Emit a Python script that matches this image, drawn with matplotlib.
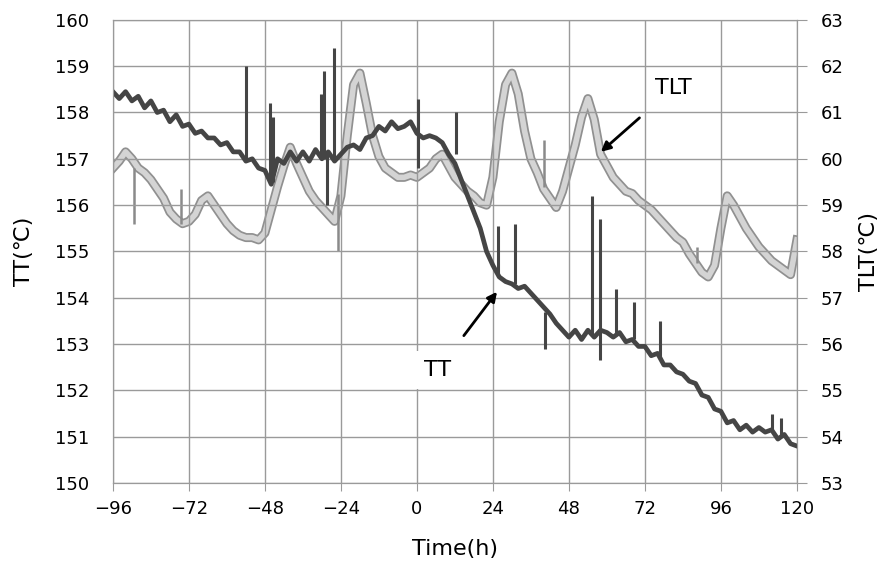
import matplotlib
matplotlib.use('Agg')
import matplotlib.pyplot as plt
import matplotlib.patheffects as pe

# time axis (h), sampled every 2 h
hours = list(range(-96, 121, 2))

# TT (left axis, degC)
tt = [158.45, 158.3, 158.45, 158.25, 158.35, 158.1, 158.25, 158.0, 158.05, 157.8,
      157.95, 157.7, 157.75, 157.55, 157.6, 157.45, 157.45, 157.3, 157.35, 157.15,
      157.15, 156.95, 157.0, 156.8, 156.75, 156.45, 157.0, 156.9, 157.15, 156.95,
      157.15, 156.95, 157.2, 157.0, 157.15, 156.95, 157.1, 157.25, 157.3, 157.2,
      157.45, 157.5, 157.7, 157.6, 157.8, 157.65, 157.7, 157.8, 157.55, 157.45,
      157.5, 157.45, 157.35, 157.1, 156.9, 156.55, 156.2, 155.85, 155.5, 155.0,
      154.7, 154.45, 154.35, 154.3, 154.2, 154.25, 154.1, 153.95, 153.8, 153.65,
      153.45, 153.3, 153.15, 153.3, 153.1, 153.3, 153.15, 153.3, 153.25, 153.15,
      153.25, 153.05, 153.1, 152.95, 152.95, 152.75, 152.8, 152.55, 152.55, 152.4,
      152.35, 152.2, 152.15, 151.9, 151.85, 151.6, 151.55, 151.3, 151.35, 151.15,
      151.25, 151.1, 151.2, 151.1, 151.15, 150.95, 151.05, 150.85, 150.8]

# TLT (right axis, degC)
tlt = [59.8, 59.95, 60.15, 60.0, 59.8, 59.7, 59.55, 59.35, 59.15, 58.85,
       58.7, 58.6, 58.65, 58.8, 59.1, 59.2, 59.0, 58.8, 58.6, 58.45,
       58.35, 58.3, 58.3, 58.25, 58.4, 58.9, 59.4, 59.85, 60.25, 59.9,
       59.6, 59.3, 59.1, 58.95, 58.8, 58.65, 59.2, 60.5, 61.6, 61.85,
       61.2, 60.5, 60.05, 59.8, 59.7, 59.6, 59.6, 59.65, 59.6, 59.7,
       59.8, 60.0, 60.1, 59.85, 59.6, 59.45, 59.3, 59.2, 59.05, 59.0,
       59.6, 60.8, 61.6, 61.85, 61.4, 60.6, 60.0, 59.7, 59.35, 59.15,
       58.95, 59.3, 59.8, 60.3, 60.9, 61.3, 60.85, 60.1, 59.85, 59.6,
       59.45, 59.3, 59.25, 59.1, 59.0, 58.9, 58.75, 58.6, 58.45, 58.3,
       58.2, 57.95, 57.75, 57.55, 57.45, 57.7, 58.5, 59.2, 59.0, 58.75,
       58.5, 58.3, 58.1, 57.95, 57.8, 57.7, 57.6, 57.5, 58.25]

# single-sample spikes: time, low, high
tt_spike_t = [-54, -46.5, -45.5, -30.3, -29.4, -26.2, -28.5, 0.3, 12.5, 25.6, 31,
              40.5, 55.3, 57.7, 62.9, 68.6, 76.9, 112, 115]
tt_spike_lo = [157.0, 156.5, 156.5, 157.0, 157.0, 157.0, 156.0, 156.8, 157.1, 154.5, 154.3,
               152.9, 153.2, 152.65, 153.2, 153.1, 152.7, 151.1, 151.0]
tt_spike_hi = [159.0, 158.2, 157.9, 158.4, 158.9, 159.4, 157.1, 158.3, 158.0, 155.55, 155.6,
               153.7, 156.2, 155.7, 154.2, 153.9, 153.5, 151.5, 151.4]

tlt_spike_t = [-89.4, -74.5, -25, 40, 88.5]
tlt_spike_lo = [58.6, 58.6, 58.0, 59.4, 57.75]
tlt_spike_hi = [59.8, 59.35, 59.25, 60.4, 58.1]

fig = plt.figure(figsize=(8.89, 5.67), dpi=100)
ax = fig.add_axes([0.127, 0.148, 0.7694, 0.817])
ax2 = ax.twinx()

grid_c = '#9a9a9a'
ax.set_xlim(-96, 120)
ax.set_ylim(150, 160)
ax2.set_ylim(53, 63)
ax.set_xticks(range(-96, 121, 24))
ax.set_yticks(range(150, 161))
ax2.set_yticks(range(53, 64))
ax.set_xticklabels([str(v).replace('-', '\u2212') for v in range(-96, 121, 24)])
ax.grid(True, color=grid_c, lw=1)
for a in (ax, ax2):
    for s in a.spines.values():
        s.set_color(grid_c)
ax.tick_params(axis='x', colors=grid_c, labelcolor='black', labelsize=13, length=6, pad=6)
ax.tick_params(axis='y', colors=grid_c, labelcolor='black', labelsize=13, length=0, pad=17)
ax2.tick_params(axis='y', colors=grid_c, labelcolor='black', labelsize=13, length=7, pad=10)

# TLT on right axis, drawn first so TT sits above
ax2.plot(hours, tlt, color='#d4d4d4', lw=4,
         path_effects=[pe.Stroke(linewidth=6.5, foreground='#909090'), pe.Normal()])
ax2.vlines(tlt_spike_t, tlt_spike_lo, tlt_spike_hi, color='#8a8a8a', lw=1.8)

# TT on left axis, moved in front
ax.set_zorder(ax2.get_zorder() + 1)
ax.patch.set_visible(False)
ax.plot(hours, tt, color='#454545', lw=3.4)
ax.vlines(tt_spike_t, tt_spike_lo, tt_spike_hi, color='#454545', lw=2.2)

ax.set_xlabel('Time(h)', fontsize=16)
ax.set_ylabel('TT(\u2103)', fontsize=16)
ax2.set_ylabel('TLT(\u2103)', fontsize=16)
ax.xaxis.set_label_coords(0.5, -0.12)
ax.yaxis.set_label_coords(-0.115, 0.5)
ax2.yaxis.set_label_coords(1.091, 0.5)

# annotations
ax2.annotate('TLT', xy=(58.1, 60.15), xytext=(81, 61.53), fontsize=16,
             ha='center', va='center',
             bbox=dict(boxstyle='square,pad=0.4', fc='white', ec='none'),
             arrowprops=dict(arrowstyle='-|>', color='black', lw=2, shrinkA=12, shrinkB=0,
                             mutation_scale=14))
ax.annotate('TT', xy=(25.3, 154.13), xytext=(6.6, 152.44), fontsize=16,
            ha='center', va='center',
            bbox=dict(boxstyle='square,pad=0.4', fc='white', ec='none'),
            arrowprops=dict(arrowstyle='-|>', color='black', lw=2, shrinkA=14, shrinkB=0,
                            mutation_scale=14))

fig.savefig('out.png', dpi=100)
